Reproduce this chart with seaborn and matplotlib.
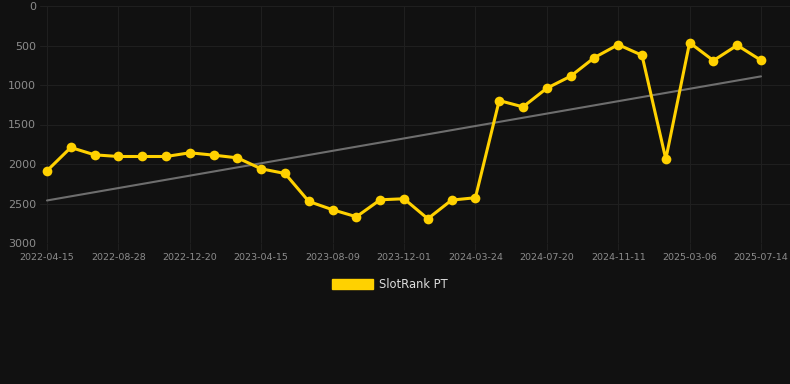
import numpy as np
import pandas as pd
import matplotlib
matplotlib.use("Agg")
import matplotlib.pyplot as plt
import seaborn as sns
from matplotlib.patches import Patch

# rank values (lower = better), one per sample, equally spaced on x
rank_values = [2086, 1791, 1884, 1905, 1905, 1905, 1858, 1888, 1922, 2061,
               2120, 2474, 2579, 2668, 2453, 2440, 2693, 2457, 2427, 1197,
               1277, 1041, 889, 653, 489, 624, 1938, 464, 691, 497, 687]
# dates shown on the axis, every third sample
tick_labels = ["2022-04-15", "2022-08-28", "2022-12-20", "2023-04-15", "2023-08-09",
               "2023-12-01", "2024-03-24", "2024-07-20", "2024-11-11", "2025-03-06",
               "2025-07-14"]
y_ticks = [0, 500, 1000, 1500, 2000, 2500, 3000]
series_name = "SlotRank PT"

BG = "#111111"
GOLD = "#FFD100"
GRID = "#1f1f1f"

df = pd.DataFrame({"idx": np.arange(len(rank_values)), "rank": rank_values})

sns.set_theme(style="dark", rc={
    "figure.facecolor": BG, "axes.facecolor": BG,
    "axes.edgecolor": BG, "grid.color": GRID,
})
plt.rcParams['font.family'] = ['DejaVu Sans']

fig = plt.figure(figsize=(7.9, 3.84), dpi=100)
ax = fig.add_axes([40 / 790, 141 / 384, 750 / 790, 237 / 384])

# trend line
sns.regplot(data=df, x="idx", y="rank", scatter=False, ci=None, ax=ax,
            line_kws={"color": "#6e6e6e", "linewidth": 1.5, "zorder": 2})
# main series
sns.lineplot(data=df, x="idx", y="rank", ax=ax, color=GOLD, linewidth=2.2,
             marker="o", markersize=7, markeredgewidth=0, zorder=3)

step = (761 - 47) / 30
ax.set_xlim(-7 / step, (790 - 47) / step)
ax.set_ylim(3000, 0)
ax.set_yticks(y_ticks)
ax.set_yticklabels([str(t) for t in y_ticks])
ax.set_xticks(df["idx"][::3])
ax.set_xticklabels(tick_labels)
ax.grid(True, color=GRID, linewidth=0.8)
ax.tick_params(axis="y", colors="#8c8c8c", labelsize=8, length=0, pad=3)
ax.tick_params(axis="x", colors=GRID, labelcolor="#8c8c8c", labelsize=6.8,
               length=5, width=0.8, pad=2, bottom=True, direction="out")
ax.set_xlabel("")
ax.set_ylabel("")
for s in ax.spines.values():
    s.set_visible(False)

handle = Patch(facecolor=GOLD, edgecolor=GOLD)
leg = fig.legend([handle], [series_name], loc="center", bbox_to_anchor=(390 / 790, 1 - 284 / 384),
                 frameon=False, fontsize=8.3, handlelength=3.6, handleheight=0.95,
                 handletextpad=0.5, labelcolor="#dddddd")

fig.savefig("out.png", dpi=100, facecolor=BG)
